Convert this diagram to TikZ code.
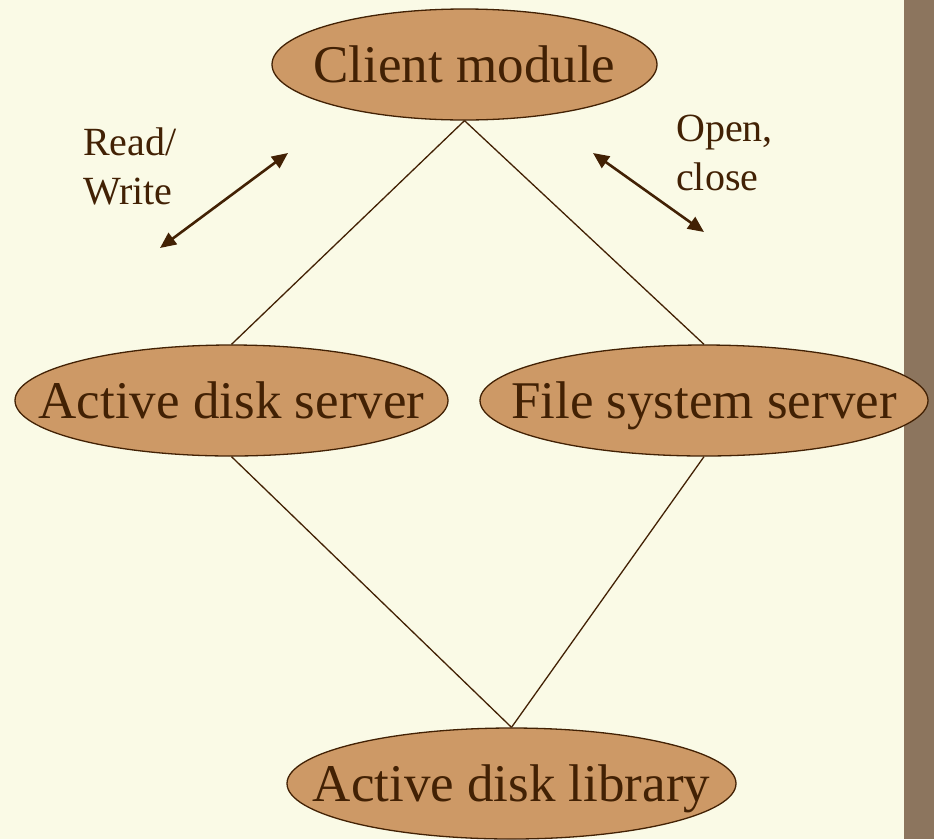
\documentclass[tikz,border=0pt]{standalone}
\usepackage{fontspec}
\setmainfont{Liberation Serif}
\usetikzlibrary{shapes.geometric,arrows.meta}
\definecolor{paper}{RGB}{250,250,230}
\definecolor{clay}{RGB}{205,153,102}
\definecolor{umber}{RGB}{66,33,4}
\definecolor{sidebar}{RGB}{140,117,94}
% module label of zero width, so the ellipse keeps its given size
\newcommand{\modtext}[1]{\makebox[0pt]{#1}}
\tikzset{
  module/.style={ellipse, draw=umber, line width=1.3pt, fill=clay, inner sep=0pt,
    text=umber, font=\fontsize{53}{60}\selectfont, text height=35pt, text depth=0pt},
  link/.style={draw=umber, line width=1.3pt},
  flow/.style={draw=umber, line width=2.6pt, {Triangle[length=16pt,width=14pt]}-{Triangle[length=16pt,width=14pt]}},
  note/.style={text=umber, font=\fontsize{40}{49}\selectfont, align=left, inner sep=0pt, anchor=base west}
}
\begin{document}
\begin{tikzpicture}[x=1pt,y=-1pt]
  % page background and right-hand band
  \fill[paper] (0,0) rectangle (934,839);
  \useasboundingbox (0,0) rectangle (934,839);
  \fill[sidebar] (904,0) rectangle (934,839);

  % modules
  \node[module, minimum width=385pt, minimum height=111pt] (client) at (464.5,64.5) {\modtext{Client module}};
  \node[module, minimum width=433pt, minimum height=111pt] (ads) at (231.5,400.5) {\modtext{Active disk server}};
  \node[module, minimum width=448pt, minimum height=111pt] (fss) at (704,400.5) {\modtext{File system server}};
  \node[module, minimum width=449pt, minimum height=111pt] (lib) at (511.5,783.5) {\modtext{Active disk library}};

  % links between modules
  \draw[link] (client.south) -- (ads.north);
  \draw[link] (client.south) -- (fss.north);
  \draw[link] (ads.south) -- (lib.north);
  \draw[link] (fss.south) -- (lib.north);

  % data flow arrows and their labels
  \coordinate (rwA) at (160,248);
  \coordinate (rwB) at (288,153);
  \draw[flow] (rwA) -- (rwB);
  \coordinate (ocA) at (593,153);
  \coordinate (ocB) at (704,232);
  \draw[flow] (ocA) -- (ocB);

  \node[note] (rw) at (83,204) {Read/\\Write};
  \node[note] (oc) at (676,190) {Open,\\close};
\end{tikzpicture}
\end{document}
